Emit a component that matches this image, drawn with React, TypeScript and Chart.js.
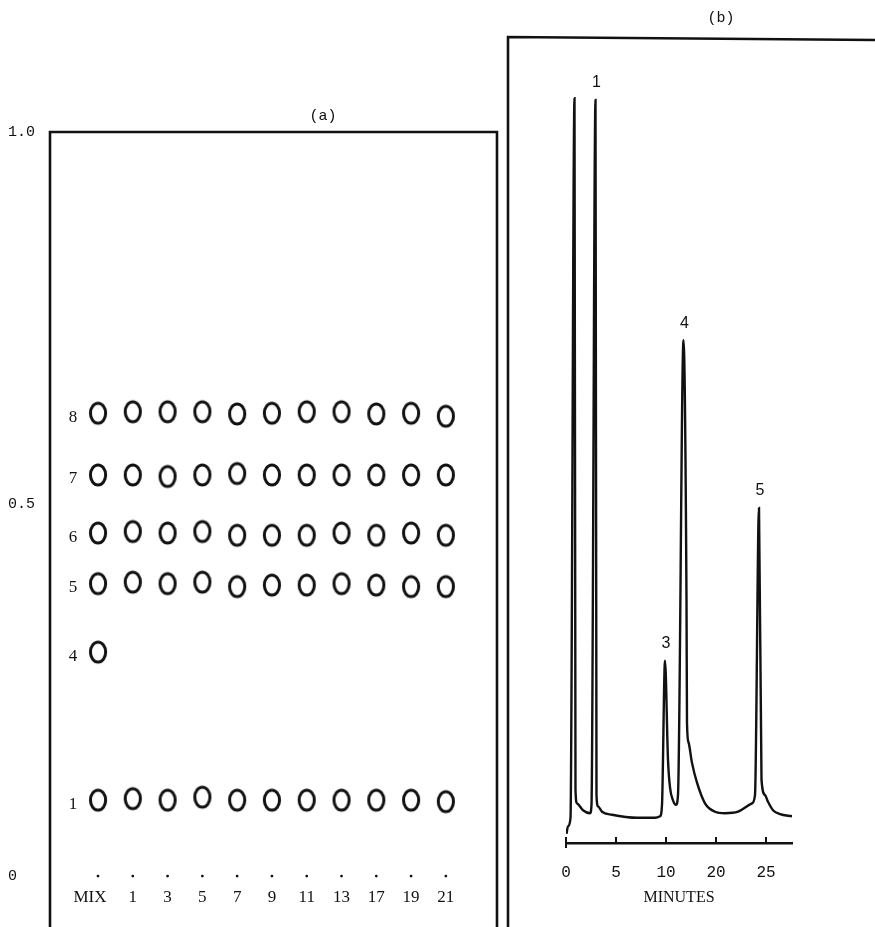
import React, { useEffect, useRef } from 'react';
import { Chart, registerables } from 'chart.js';
Chart.register(...registerables);

// ---------- Panel (a): TLC plate ----------
const laneLabels = ['MIX', '1', '3', '5', '7', '9', '11', '13', '17', '19', '21'];
const compoundLabels = ['8', '7', '6', '5', '4', '1'];
const rf8 = [0.622, 0.624, 0.624, 0.624, 0.621, 0.622, 0.624, 0.624, 0.621, 0.622, 0.618];
const rf7 = [0.539, 0.539, 0.537, 0.539, 0.541, 0.539, 0.539, 0.539, 0.539, 0.539, 0.539];
const rf6 = [0.461, 0.463, 0.461, 0.463, 0.458, 0.458, 0.458, 0.461, 0.458, 0.461, 0.458];
const rf5 = [0.393, 0.395, 0.393, 0.395, 0.389, 0.391, 0.391, 0.393, 0.391, 0.389, 0.389];
const rf4 = [0.301];
const rf1 = [0.102, 0.104, 0.102, 0.106, 0.102, 0.102, 0.102, 0.102, 0.102, 0.102, 0.1];
const rfTickValues = [0, 0.5, 1.0];
const rfTickLabels = ['0', '0.5', '1.0'];

// ---------- Panel (b): chromatogram ----------
const timeValues = [0.05, 0.2, 0.45, 0.85, 0.95, 1.1, 1.7, 2.4, 2.55, 2.95, 3.05, 3.2, 3.6, 4.6, 7.2, 8.9, 9.4, 9.6, 9.9, 10.2, 10.4, 10.7, 11.0, 11.2, 11.75, 12.05, 12.1, 12.25, 12.6, 13.1, 13.9, 14.9, 15.9, 17.2, 18.6, 18.9, 19.3, 19.55, 19.9, 20.2, 20.7, 21.4, 22.6];
const responseValues = [1.2, 2.2, 3.3, 97.6, 6.9, 5.2, 4.3, 3.9, 5.0, 97.4, 6.3, 4.8, 4.1, 3.7, 3.3, 3.3, 3.5, 5.0, 23.9, 10.9, 7.3, 5.6, 5.0, 6.3, 65.9, 31.8, 15.7, 13.2, 10.5, 7.9, 5.2, 4.1, 3.9, 4.1, 5.2, 6.3, 43.9, 8.3, 6.3, 5.4, 4.3, 3.8, 3.5];
const peakLabelText = ['1', '3', '4', '5'];
const peakLabelIndex = [9, 18, 24, 36];
const minuteTickValues = [0, 5, 10, 15, 20];
const minuteTickLabels = ['0', '5', '10', '20', '25'];

const INK = '#111';

function makeSpot(): HTMLCanvasElement {
  const c = document.createElement('canvas');
  c.width = 24;
  c.height = 30;
  const g = c.getContext('2d')!;
  g.strokeStyle = INK;
  g.lineWidth = 3;
  g.beginPath();
  g.ellipse(12, 15, 7.6, 10, 0, 0, Math.PI * 2);
  g.stroke();
  return c;
}

function PlateChart() {
  const ref = useRef<HTMLCanvasElement>(null);
  useEffect(() => {
    const spot = makeSpot();
    const rows = [rf8, rf7, rf6, rf5, rf4, rf1];
    const datasets: any[] = rows.map((rf, r) => ({
      label: compoundLabels[r],
      data: rf.map((y, i) => ({ x: i, y })),
      pointStyle: spot,
      pointRadius: 9,
      showLine: false,
    }));
    datasets.push({
      label: 'origin',
      data: laneLabels.map((_, i) => ({ x: i, y: 0 })),
      pointStyle: 'circle',
      pointRadius: 1.4,
      backgroundColor: INK,
      borderWidth: 0,
      showLine: false,
    });
    const plugin = {
      id: 'plateDecor',
      afterDraw(chart: any) {
        const { ctx, chartArea, height } = chart;
        const xs = chart.scales.x;
        const ys = chart.scales.y;
        ctx.save();
        ctx.strokeStyle = INK;
        ctx.lineWidth = 2.6;
        ctx.beginPath();
        ctx.moveTo(chartArea.left, height);
        ctx.lineTo(chartArea.left, chartArea.top);
        ctx.lineTo(chartArea.right, chartArea.top);
        ctx.lineTo(chartArea.right, height);
        ctx.stroke();
        ctx.fillStyle = INK;
        ctx.font = '15px "Liberation Mono"';
        ctx.textAlign = 'center';
        ctx.textBaseline = 'middle';
        ctx.fillText('(a)', chartArea.left + 0.611 * (chartArea.right - chartArea.left), chartArea.top - 16);
        ctx.font = '17px "Liberation Serif"';
        for (let r = 0; r < compoundLabels.length; r++) {
          const pt = chart.getDatasetMeta(r).data[0];
          ctx.fillText(compoundLabels[r], pt.x - 25, pt.y + 4);
        }
        ctx.font = '17px "Liberation Serif"';
        const y0 = ys.getPixelForValue(0);
        laneLabels.forEach((l, i) => {
          ctx.fillText(l, xs.getPixelForValue(i) - (i === 0 ? 8 : 0), y0 + 21);
        });
        ctx.restore();
      },
    };
    const chart = new Chart(ref.current!, {
      type: 'scatter',
      data: { datasets },
      options: {
        responsive: false,
        animation: false,
        events: [],
        layout: { autoPadding: false, padding: { left: 8, right: 8, top: 132, bottom: 0 } },
        plugins: { legend: { display: false }, tooltip: { enabled: false } },
        scales: {
          x: { type: 'linear', display: false, min: -1.38, max: 11.47 },
          y: {
            type: 'linear',
            position: 'left',
            min: -0.0685,
            max: 1.0,
            afterFit: (s: any) => {
              s.width = 42;
              s.paddingTop = 0;
              s.paddingBottom = 0;
            },
            afterBuildTicks: (s: any) => { s.ticks = rfTickValues.map((v) => ({ value: v })); },
            ticks: {
              callback: (_v: any, i: number) => rfTickLabels[i],
              crossAlign: 'far',
              color: INK,
              padding: 0,
              font: { family: 'Liberation Mono', size: 15 },
            },
            grid: { display: false, drawTicks: false },
            border: { display: false },
          },
        },
      } as any,
      plugins: [plugin],
    });
    return () => chart.destroy();
  }, []);
  return <canvas ref={ref} width={505} height={927} style={{ position: 'absolute', left: 0, top: 0 }} />;
}

function ChromChart() {
  const ref = useRef<HTMLCanvasElement>(null);
  useEffect(() => {
    const plugin = {
      id: 'chromDecor',
      afterDraw(chart: any) {
        const { ctx, chartArea, width, height } = chart;
        const xs = chart.scales.x;
        const ds = chart.getDatasetMeta(0).data;
        ctx.save();
        ctx.strokeStyle = INK;
        ctx.fillStyle = INK;
        // frame
        ctx.lineWidth = 2.6;
        ctx.beginPath();
        ctx.moveTo(chartArea.left - 58, height);
        ctx.lineTo(chartArea.left - 58, chartArea.top - 43);
        ctx.lineTo(width, chartArea.top - 40);
        ctx.stroke();
        // tick marks (upward)
        ctx.lineWidth = 2;
        minuteTickValues.forEach((v, i) => {
          const px = xs.getPixelForValue(v);
          ctx.beginPath();
          ctx.moveTo(px, chartArea.bottom + (i === 0 ? 5 : 0));
          ctx.lineTo(px, chartArea.bottom - 6);
          ctx.stroke();
        });
        ctx.textAlign = 'center';
        ctx.textBaseline = 'middle';
        ctx.font = '15px "Liberation Mono"';
        ctx.fillText('(b)', chartArea.left + 155, chartArea.top - 62);
        ctx.font = '16px "Liberation Sans"';
        peakLabelText.forEach((t, i) => {
          const p = ds[peakLabelIndex[i]];
          ctx.fillText(t, p.x + 1, p.y - 17);
        });
        ctx.restore();
      },
    };
    const chart = new Chart(ref.current!, {
      type: 'line',
      data: {
        datasets: [
          {
            label: 'trace',
            data: timeValues.map((x, i) => ({ x, y: responseValues[i] })),
            borderColor: INK,
            borderWidth: 2.4,
            pointRadius: 0,
            fill: false,
            cubicInterpolationMode: 'monotone',
          },
        ],
      },
      options: {
        responsive: false,
        animation: false,
        events: [],
        layout: { autoPadding: false, padding: { left: 61, right: 83, top: 80, bottom: 0 } },
        plugins: { legend: { display: false }, tooltip: { enabled: false } },
        scales: {
          x: {
            type: 'linear',
            position: 'bottom',
            min: 0,
            max: 22.6,
            afterFit: (s: any) => { s.height = 84; },
            afterBuildTicks: (s: any) => { s.ticks = minuteTickValues.map((v) => ({ value: v })); },
            ticks: {
              callback: (_v: any, i: number) => minuteTickLabels[i],
              color: INK,
              padding: 20,
              maxRotation: 0,
              autoSkip: false,
              font: { family: 'Liberation Mono', size: 16 },
            },
            grid: { display: false, drawTicks: false },
            border: { display: true, color: INK, width: 2.5 },
            title: {
              display: true,
              text: 'MINUTES',
              color: INK,
              font: { family: 'Liberation Serif', size: 16 },
              padding: { top: 0, bottom: 20 },
            },
          },
          y: { type: 'linear', display: false, min: 0, max: 100 },
        },
      } as any,
      plugins: [plugin],
    });
    return () => chart.destroy();
  }, []);
  return <canvas ref={ref} width={370} height={927} style={{ position: 'absolute', left: 505, top: 0 }} />;
}

export default function App() {
  return (
    <div style={{ position: 'absolute', left: 0, top: 0, width: 875, height: 927, overflow: 'hidden', background: '#fff' }}>
      <PlateChart />
      <ChromChart />
    </div>
  );
}
